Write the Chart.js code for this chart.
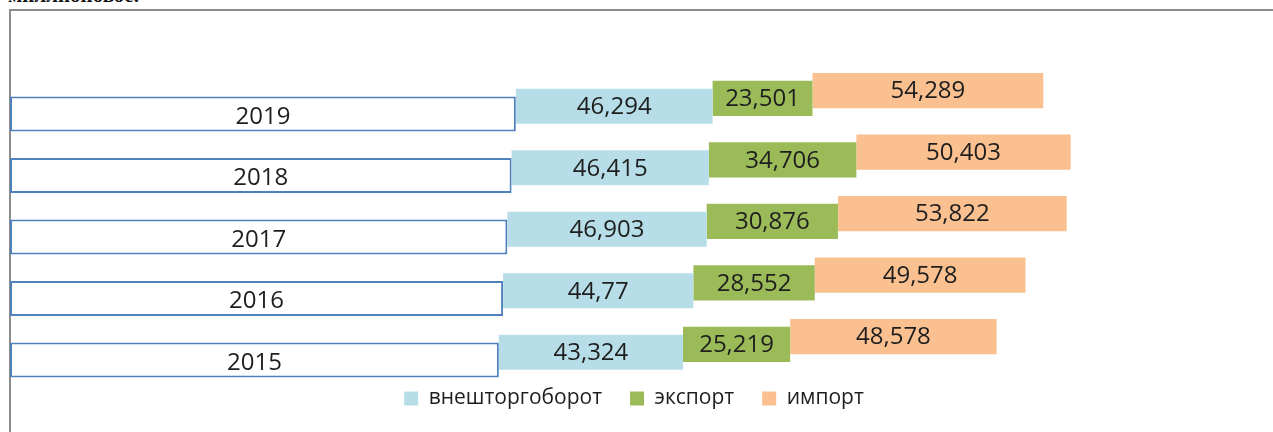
<!DOCTYPE html>
<html>
<head>
<meta charset="utf-8">
<script src="https://cdn.jsdelivr.net/npm/chart.js@4.4.1/dist/chart.umd.min.js"></script>
<style>
  html, body { margin: 0; padding: 0; background: #fff; overflow: hidden; }
  body { width: 1273px; height: 432px; position: relative; }
  #above { position: absolute; left: 8px; top: -17px; font: bold 21px 'Liberation Serif', serif; color: #111; white-space: nowrap; }
  #frame { position: absolute; left: 9px; top: 9px; width: 1300px; height: 440px;
           border-left: 2px solid #8c8c8c; border-top: 2px solid #8c8c8c; }
  #wrap { position: absolute; left: 10px; top: 10px; width: 1263px; height: 422px; }
</style>
</head>
<body>
<div id="above">миллионовое.</div>
<div id="frame"></div>
<div id="wrap"><canvas id="tradeChart"></canvas></div>
<script>
const years = ['2019', '2018', '2017', '2016', '2015'];
const yearValues = [2019, 2018, 2017, 2016, 2015];
const turnover = [46.294, 46.415, 46.903, 44.77, 43.324];
const exportVals = [23.501, 34.706, 30.876, 28.552, 25.219];
const importVals = [54.289, 50.403, 53.822, 49.578, 48.578];

const SHIFT = 7.8; // each stacked segment sits a bit higher (3D look)

Chart.defaults.font.family = "'Open Sans', sans-serif";

// moves every dataset up by its own offset
const shiftPlugin = {
    id: 'shift',
    beforeDatasetDraw(chart, args) {
        chart.ctx.save();
        chart.ctx.translate(0, -SHIFT * args.index);
    },
    afterDatasetDraw(chart) {
        chart.ctx.restore();
    }
};

// values written in the middle of each bar
const labelPlugin = {
    id: 'barLabels',
    afterDatasetsDraw(chart) {
        const ctx = chart.ctx;
        ctx.save();
        ctx.fillStyle = '#1e1e1e';
        ctx.font = "24px 'Open Sans', sans-serif";
        ctx.textAlign = 'center';
        ctx.textBaseline = 'middle';
        chart.data.datasets.forEach((ds, i) => {
            const meta = chart.getDatasetMeta(i);
            meta.data.forEach((bar, j) => {
                const text = i === 0 ? years[j] : String(ds.data[j]).replace('.', ',');
                const dy = i === 0 ? 3 : 1;
                ctx.fillText(text, (bar.x + bar.base) / 2, bar.y - SHIFT * i + dy);
            });
        });
        ctx.restore();
    }
};

new Chart(document.getElementById('tradeChart'), {
    type: 'bar',
    data: {
        labels: years,
        datasets: [{
            label: 'год',
            data: yearValues,
            base: 1900,
            backgroundColor: '#ffffff',
            borderColor: '#4f81bd',
            borderWidth: 2,
            borderSkipped: false,
            clip: false
        }, {
            label: 'внешторгоборот',
            data: turnover,
            backgroundColor: '#b7dee8',
            borderWidth: 0,
            clip: false
        }, {
            label: 'экспорт',
            data: exportVals,
            backgroundColor: '#9bbb59',
            borderWidth: 0,
            clip: false
        }, {
            label: 'импорт',
            data: importVals,
            backgroundColor: '#fac090',
            borderWidth: 0,
            clip: false
        }]
    },
    options: {
        indexAxis: 'y',
        responsive: true,
        maintainAspectRatio: false,
        animation: false,
        datasets: {
            bar: { categoryPercentage: 1, barPercentage: 0.57 }
        },
        layout: { padding: { top: 104, bottom: 13, left: 0, right: 15 } },
        scales: {
            x: { stacked: true, display: false, min: 1900, max: 2193.6 },
            y: { stacked: true, display: false, offset: false }
        },
        plugins: {
            tooltip: { enabled: false },
            legend: {
                position: 'bottom',
                labels: {
                    filter: item => item.datasetIndex > 0,
                    boxWidth: 14,
                    boxHeight: 14,
                    padding: 28,
                    color: '#1e1e1e',
                    font: { size: 21 }
                }
            }
        }
    },
    plugins: [shiftPlugin, labelPlugin]
});
</script>
</body>
</html>
